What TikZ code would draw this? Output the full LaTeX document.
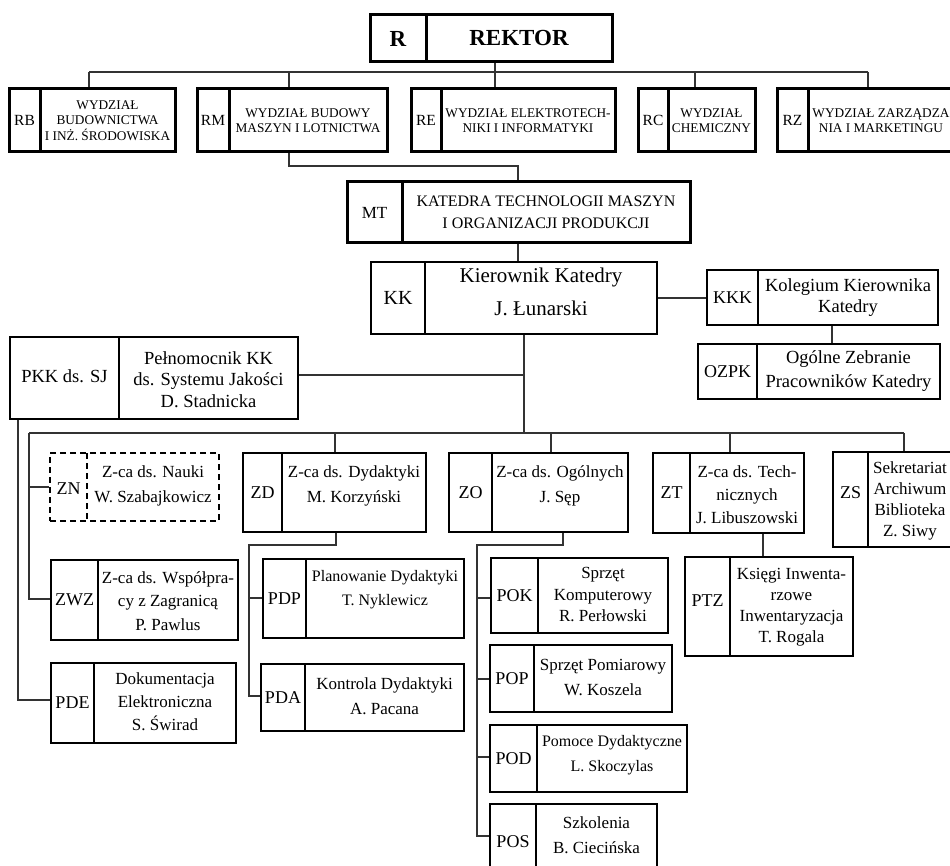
\documentclass[tikz,border=0pt]{standalone}
\usepackage{fontspec}
\setmainfont{Liberation Serif}
\usetikzlibrary{fit}
\newcommand\fs[2]{\fontsize{#1}{#2}\selectfont}
\tikzset{
  thickbox/.style={draw=black, line width=3pt},
  thinbox/.style={draw=black, line width=1.8pt},
  dashbox/.style={draw=black, line width=1.8pt, dash pattern=on 6pt off 4pt},
  conn/.style={draw=black!80, line width=1.3pt},
  lbl/.style={inner sep=0pt, font=\fs{18}{21}},
  txt/.style={inner sep=0pt, align=center, font=\fs{17}{25}},
  fac/.style={txt, font=\fs{13.3}{15.5}},
}
% style, name, x1, y1, x2, y2, xdiv, label, label options
\newcommand\orgbox[9]{%
  \node[#1, fit={(#3,#4) (#5,#6)}, inner sep=0pt, rectangle] (#2) {};
  \draw[#1] (#7,#4) -- (#7,#6);
  \node[lbl, #9] (#2-l) at ({(#3+#7)/2},{(#4+#6)/2}) {#8};
}
\begin{document}
\begin{tikzpicture}[x=1pt,y=-1pt]
\useasboundingbox (0,0) rectangle (950,866);
\clip (0,0) rectangle (950,866);

% ---- top level
\orgbox{thickbox}{R}{370}{15}{612}{62}{426}{\bfseries\fs{23}{26}R}{}
\node[txt, font=\bfseries\fs{23}{26}] (R-t) at (519,38.5) {REKTOR};

\orgbox{thickbox}{RB}{9}{89}{175}{152}{40}{\fs{15.5}{18}RB}{}
\node[fac] (RB-t) at (107.5,120.5) {WYDZIAŁ\\BUDOWNICTWA\\I INŻ. ŚRODOWISKA};
\orgbox{thickbox}{RM}{197}{89}{387}{152}{229}{\fs{15.5}{18}RM}{}
\node[fac] (RM-t) at (308,120.5) {WYDZIAŁ BUDOWY\\MASZYN I LOTNICTWA};
\orgbox{thickbox}{RE}{411}{89}{615}{152}{441}{\fs{15.5}{18}RE}{}
\node[fac] (RE-t) at (528,120.5) {WYDZIAŁ ELEKTROTECH-\\NIKI I INFORMATYKI};
\orgbox{thickbox}{RC}{638}{89}{755}{152}{668}{\fs{15.5}{18}RC}{}
\node[fac] (RC-t) at (711.5,120.5) {WYDZIAŁ\\CHEMICZNY};
\orgbox{thickbox}{RZ}{777}{89}{954}{152}{808}{\fs{15.5}{18}RZ}{}
\node[fac] (RZ-t) at (881,120.5) {WYDZIAŁ ZARZĄDZA\\NIA I MARKETINGU};

\orgbox{thickbox}{MT}{347}{182}{690}{243}{402}{\fs{17}{20}MT}{}
\node[txt, font=\fs{16}{22}] (MT-t) at (546,212) {KATEDRA TECHNOLOGII MASZYN\\I ORGANIZACJI PRODUKCJI};

\orgbox{thinbox}{KK}{371}{262}{657}{334}{425}{\fs{20}{24}KK}{}
\node[txt, font=\fs{21}{33}] (KK-t) at (541,292) {Kierownik Katedry\\J. Łunarski};

\orgbox{thinbox}{KKK}{707}{270}{938}{325}{758}{KKK}{}
\node[txt, font=\fs{18.5}{21}] (KKK-t) at (848,298) {Kolegium Kierownika\\Katedry};
\orgbox{thinbox}{OZPK}{698}{344}{940}{399}{757}{OZPK}{}
\node[txt, font=\fs{18.5}{24}] (OZPK-t) at (848.5,371) {Ogólne Zebranie\\Pracowników Katedry};

\orgbox{thinbox}{PKK}{10}{337}{298}{419}{119}{\fs{18.5}{21}PKK ds. SJ}{yshift=2pt}
\node[txt, font=\fs{18.5}{21.5}] (PKK-t) at (208.5,379.5) {Pełnomocnik KK\\ds. Systemu Jakości\\D. Stadnicka};

% ---- deputies
\orgbox{dashbox}{ZN}{50}{453}{219}{521}{87}{ZN}{yshift=-2pt}
\node[txt] (ZN-t) at (153,486) {Z-ca ds. Nauki\\W. Szabajkowicz};
\orgbox{thinbox}{ZD}{243}{453}{426}{532}{282}{ZD}{}
\node[txt] (ZD-t) at (354,486) {Z-ca ds. Dydaktyki\\M. Korzyński};
\orgbox{thinbox}{ZO}{449}{453}{628}{532}{492}{ZO}{}
\node[txt] (ZO-t) at (560,486) {Z-ca ds. Ogólnych\\J. Sęp};
\orgbox{thinbox}{ZT}{653}{453}{804}{533}{690}{ZT}{}
\node[txt, font=\fs{17}{23}] (ZT-t) at (747,495) {Z-ca ds. Tech-\\nicznych\\J. Libuszowski};
\orgbox{thinbox}{ZS}{833}{452}{951}{547}{868}{ZS}{yshift=6.5pt}
\node[txt, font=\fs{17}{21}] (ZS-t) at (910,501) {Sekretariat\\Archiwum\\Biblioteka\\Z. Siwy};

\orgbox{thinbox}{ZWZ}{51}{560}{238}{640}{98}{ZWZ}{}
\node[txt, font=\fs{17}{23.5}] (ZWZ-t) at (168,601) {Z-ca ds. Współpra-\\cy z Zagranicą\\P. Pawlus};
\orgbox{thinbox}{PDE}{51}{663}{236}{743}{94}{PDE}{}
\node[txt, font=\fs{17}{23}] (PDE-t) at (165,702) {Dokumentacja\\Elektroniczna\\S. Świrad};

\orgbox{thinbox}{PDP}{263}{559}{464}{638}{306}{PDP}{}
\node[txt, font=\fs{16}{24}] (PDP-t) at (385,590) {Planowanie Dydaktyki\\T. Nyklewicz};
\orgbox{thinbox}{PDA}{261}{664}{464}{731}{305}{PDA}{}
\node[txt] (PDA-t) at (384.5,696) {Kontrola Dydaktyki\\A. Pacana};

\orgbox{thinbox}{POK}{491}{558}{668}{633}{538}{POK}{}
\node[txt, font=\fs{17}{21.5}] (POK-t) at (603,594.5) {Sprzęt\\Komputerowy\\R. Perłowski};
\orgbox{thinbox}{POP}{490}{645}{672}{712}{534}{POP}{}
\node[txt] (POP-t) at (603,677.5) {Sprzęt Pomiarowy\\W. Koszela};
\orgbox{thinbox}{POD}{490}{725}{687}{792}{537}{POD}{}
\node[txt, font=\fs{16}{25}] (POD-t) at (612,755.5) {Pomoce Dydaktyczne\\L. Skoczylas};
\orgbox{thinbox}{POS}{490}{804}{657}{880}{536}{POS}{}
\node[txt] (POS-t) at (596.5,835.5) {Szkolenia\\B. Ciecińska};

\orgbox{thinbox}{PTZ}{685}{557}{853}{656}{730}{PTZ}{yshift=5.5pt}
\node[txt, font=\fs{17}{21}] (PTZ-t) at (791.5,607) {Księgi Inwenta-\\rzowe\\Inwentaryzacja\\T. Rogala};

% ---- connectors
\coordinate (jR) at (495,72);
\coordinate (jRB) at (89,72);
\coordinate (jRM) at (289,72);
\coordinate (jRC) at (695,72);
\coordinate (jRZ) at (868,72);
\draw[conn] (R.south -| jR) -- (RE.north -| jR);
\draw[conn] (jRB) -- (jRZ);
\draw[conn] (jRB) -- (RB.north -| jRB);
\draw[conn] (jRM) -- (RM.north -| jRM);
\draw[conn] (jRC) -- (RC.north -| jRC);
\draw[conn] (jRZ) -- (RZ.north -| jRZ);

\coordinate (m1) at (289,166);
\coordinate (m2) at (518,166);
\draw[conn] (RM.south -| m1) -- (m1) -- (m2) -- (MT.north -| m2);
\draw[conn] (MT.south -| m2) -- (KK.north -| m2);
\draw[conn] (KK.east) -- (KKK.west |- KK.east);
\coordinate (k2) at (832,330);
\draw[conn] (KKK.south -| k2) -- (OZPK.north -| k2);

\coordinate (kd) at (524,433);
\draw[conn] (KK.south -| kd) -- (kd);
\coordinate (p1) at (524,375);
\draw[conn] (PKK.east |- p1) -- (p1);

\coordinate (zl) at (29,433);
\coordinate (zr) at (904,433);
\coordinate (zD) at (335,433);
\coordinate (zO) at (551,433);
\coordinate (zT) at (730,433);
\draw[conn] (zl) -- (zr);
\draw[conn] (zD) -- (ZD.north -| zD);
\draw[conn] (zO) -- (ZO.north -| zO);
\draw[conn] (zT) -- (ZT.north -| zT);
\draw[conn] (zr) -- (ZS.north -| zr);
\coordinate (zwz) at (29,599);
\coordinate (zn) at (29,487);
\draw[conn] (zl) -- (zwz) -- (ZWZ.west |- zwz);
\draw[conn] (zn) -- (ZN.west |- zn);

\coordinate (pe) at (18,700);
\draw[conn] (PKK.south -| pe) -- (pe) -- (PDE.west |- pe);

\coordinate (d1) at (336,545);
\coordinate (d2) at (249,545);
\coordinate (d3) at (249,696);
\coordinate (d4) at (249,598);
\draw[conn] (ZD.south -| d1) -- (d1) -- (d2) -- (d3) -- (PDA.west |- d3);
\draw[conn] (d4) -- (PDP.west |- d4);

\coordinate (o1) at (563,545);
\coordinate (o2) at (477,545);
\coordinate (o3) at (477,836);
\coordinate (oK) at (477,598);
\coordinate (oP) at (477,679);
\coordinate (oD) at (477,757);
\draw[conn] (ZO.south -| o1) -- (o1) -- (o2) -- (o3) -- (POS.west |- o3);
\draw[conn] (oK) -- (POK.west |- oK);
\draw[conn] (oP) -- (POP.west |- oP);
\draw[conn] (oD) -- (POD.west |- oD);

\coordinate (t1) at (763,545);
\draw[conn] (ZT.south -| t1) -- (PTZ.north -| t1);
\end{tikzpicture}
\end{document}
